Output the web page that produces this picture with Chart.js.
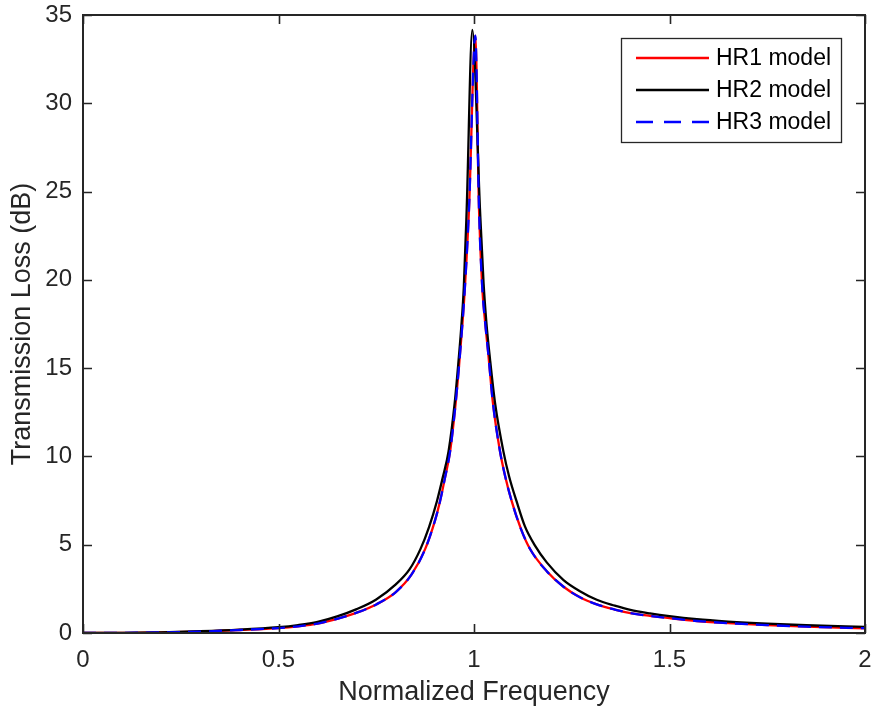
<!DOCTYPE html>
<html>
<head>
<meta charset="utf-8">
<script src="https://cdn.jsdelivr.net/npm/chart.js@4.4.1/dist/chart.umd.min.js"></script>
<style>
html,body{margin:0;padding:0;background:#fff;}
#wrap{width:872px;height:713px;}
</style>
</head>
<body>
<div id="wrap"><canvas id="c" width="872" height="713"></canvas></div>
<script>
// ---- data ----
const xTickValues = [0, 0.5, 1, 1.5, 2];
const xTickLabels = ['0', '0.5', '1', '1.5', '2'];
const yTickValues = [0, 5, 10, 15, 20, 25, 30, 35];
const yTickLabels = ['0', '5', '10', '15', '20', '25', '30', '35'];
const seriesNames = ['HR1 model', 'HR2 model', 'HR3 model'];

const freqHR1 = [0, 0.1, 0.2, 0.3, 0.4, 0.5, 0.55, 0.6, 0.65, 0.7, 0.75, 0.8, 0.84, 0.875, 0.9, 0.913, 0.925, 0.939, 0.953, 0.962, 0.970, 0.976, 0.9872, 1.0034, 1.0128, 1.021, 1.028, 1.0366, 1.048, 1.066, 1.08, 1.096, 1.12, 1.143, 1.186, 1.229, 1.271, 1.314, 1.36, 1.4, 1.45, 1.5, 1.57, 1.65, 1.75, 1.85, 2.0];
const tlHR1   = [0, 0.01, 0.03, 0.08, 0.17, 0.28, 0.38, 0.53, 0.80, 1.15, 1.62, 2.32, 3.3, 4.75, 6.35, 7.45, 8.7, 10.3, 13.0, 15.2, 17.4, 19.3, 24.0, 33.83, 24.0, 19.6, 17.7, 15.8, 13.1, 10.35, 8.85, 7.5, 5.9, 4.77, 3.5, 2.62, 2.02, 1.62, 1.33, 1.13, 0.97, 0.84, 0.68, 0.56, 0.45, 0.36, 0.27];

const freqHR2 = [0, 0.1, 0.2, 0.3, 0.4, 0.5, 0.55, 0.6, 0.65, 0.7, 0.75, 0.8, 0.835, 0.863, 0.885, 0.905, 0.92, 0.935, 0.9505, 0.960, 0.967, 0.974, 0.9813, 0.9957, 1.0153, 1.0245, 1.032, 1.041, 1.054, 1.075, 1.09, 1.109, 1.13, 1.156, 1.186, 1.229, 1.271, 1.314, 1.36, 1.4, 1.45, 1.5, 1.57, 1.65, 1.75, 1.85, 2.0];
const tlHR2   = [0, 0.01, 0.04, 0.10, 0.19, 0.33, 0.45, 0.63, 0.94, 1.35, 1.90, 2.75, 3.6, 4.75, 6.0, 7.45, 8.8, 10.3, 13.0, 15.3, 17.2, 19.6, 24.0, 34.15, 24.0, 19.8, 17.5, 15.5, 13.0, 10.3, 8.85, 7.45, 6.05, 4.95, 4.0, 3.0, 2.37, 1.88, 1.55, 1.31, 1.11, 0.95, 0.78, 0.65, 0.53, 0.44, 0.35];

const freqHR3 = [0, 0.1, 0.2, 0.3, 0.4, 0.5, 0.55, 0.6, 0.65, 0.7, 0.75, 0.8, 0.84, 0.875, 0.9, 0.913, 0.925, 0.939, 0.953, 0.962, 0.970, 0.976, 0.9872, 1.0034, 1.0128, 1.021, 1.028, 1.0366, 1.048, 1.066, 1.08, 1.096, 1.12, 1.143, 1.186, 1.229, 1.271, 1.314, 1.36, 1.4, 1.45, 1.5, 1.57, 1.65, 1.75, 1.85, 2.0];
const tlHR3   = [0, 0.01, 0.03, 0.08, 0.17, 0.28, 0.38, 0.53, 0.80, 1.15, 1.62, 2.32, 3.3, 4.75, 6.35, 7.45, 8.7, 10.3, 13.0, 15.2, 17.4, 19.3, 24.0, 33.83, 24.0, 19.6, 17.7, 15.8, 13.1, 10.35, 8.85, 7.5, 5.9, 4.77, 3.5, 2.62, 2.02, 1.62, 1.33, 1.13, 0.97, 0.84, 0.68, 0.56, 0.45, 0.36, 0.27];

// ---- styling ----
const AXIS = '#262626';
const FONT = '"Liberation Sans", Arial, Helvetica, sans-serif';
const toPts = (xs, ys) => xs.map((x, i) => ({x: x, y: ys[i]}));

const boxTicksPlugin = {
  id: 'boxTicks',
  afterDraw(chart) {
    const {ctx, chartArea: a, scales} = chart;
    const len = 9;
    ctx.save();
    ctx.strokeStyle = AXIS;
    ctx.lineWidth = 1.6;
    ctx.beginPath();
    xTickValues.forEach(v => {
      const px = Math.round(scales.x.getPixelForValue(v)) + 0.5;
      ctx.moveTo(px, a.bottom); ctx.lineTo(px, a.bottom - len);
      ctx.moveTo(px, a.top); ctx.lineTo(px, a.top + len);
    });
    yTickValues.forEach(v => {
      const py = Math.round(scales.y.getPixelForValue(v)) + 0.5;
      ctx.moveTo(a.left, py); ctx.lineTo(a.left + len, py);
      ctx.moveTo(a.right, py); ctx.lineTo(a.right - len, py);
    });
    ctx.stroke();
    ctx.lineWidth = 2;
    ctx.strokeRect(a.left, a.top, a.right - a.left, a.bottom - a.top);

    // legend box
    const bx = 621.5, by = 38.5, bw = 220, bh = 104;
    ctx.fillStyle = '#fff';
    ctx.fillRect(bx, by, bw, bh);
    ctx.lineWidth = 1.3;
    ctx.strokeStyle = AXIS;
    ctx.strokeRect(bx, by, bw, bh);
    const rows = [58, 90, 122];
    chart.data.datasets.forEach((ds, i) => {
      const y = rows[i];
      ctx.beginPath();
      ctx.strokeStyle = ds.borderColor;
      ctx.lineWidth = 2.3;
      ctx.setLineDash(ds.borderDash && ds.borderDash.length ? [17, 11] : []);
      ctx.moveTo(636, y); ctx.lineTo(709, y);
      ctx.stroke();
      ctx.setLineDash([]);
      ctx.fillStyle = '#000';
      ctx.font = '23px ' + FONT;
      ctx.textBaseline = 'middle';
      ctx.textAlign = 'left';
      ctx.fillText(ds.label, 716, y + 1);
    });
    ctx.restore();
  }
};

const ctx = document.getElementById('c').getContext('2d');
new Chart(ctx, {
  type: 'line',
  data: {
    datasets: [
      {label: seriesNames[0], data: toPts(freqHR1, tlHR1), borderColor: '#ff0000', borderWidth: 2.3, pointRadius: 0, cubicInterpolationMode: 'monotone', order: 2},
      {label: seriesNames[1], data: toPts(freqHR2, tlHR2), borderColor: '#000000', borderWidth: 2.3, pointRadius: 0, cubicInterpolationMode: 'monotone', order: 1},
      {label: seriesNames[2], data: toPts(freqHR3, tlHR3), borderColor: '#0000ff', borderWidth: 2.3, borderDash: [13, 8], pointRadius: 0, cubicInterpolationMode: 'monotone', order: 0}
    ]
  },
  options: {
    responsive: false,
    animation: false,
    devicePixelRatio: 1,
    layout: {padding: {left: 0, right: 7, top: 15, bottom: 0}},
    plugins: {legend: {display: false}, tooltip: {enabled: false}},
    scales: {
      x: {
        type: 'linear', min: 0, max: 2,
        afterBuildTicks: s => { s.ticks = xTickValues.map(v => ({value: v})); },
        afterFit: s => { s.height = 80; s.paddingLeft = 0; s.paddingRight = 0; },
        grid: {display: false, drawTicks: false},
        border: {display: false},
        ticks: {
          padding: 13,
          color: AXIS,
          maxRotation: 0,
          font: {family: FONT, size: 24},
          callback: (v) => xTickLabels[xTickValues.indexOf(v)]
        },
        title: {display: true, text: 'Normalized Frequency', color: AXIS, font: {family: FONT, size: 27}, padding: {top: 0, bottom: 4}}
      },
      y: {
        type: 'linear', min: 0, max: 35,
        afterBuildTicks: s => { s.ticks = yTickValues.map(v => ({value: v})); },
        afterFit: s => { s.width = 83; s.paddingTop = 0; s.paddingBottom = 0; },
        grid: {display: false, drawTicks: false},
        border: {display: false},
        ticks: {
          padding: 11,
          color: AXIS,
          font: {family: FONT, size: 24},
          callback: (v) => yTickLabels[yTickValues.indexOf(v)]
        },
        title: {display: true, text: 'Transmission Loss (dB)', color: AXIS, font: {family: FONT, size: 27}, padding: {top: 6, bottom: 0}}
      }
    }
  },
  plugins: [boxTicksPlugin]
});
</script>
</body>
</html>
